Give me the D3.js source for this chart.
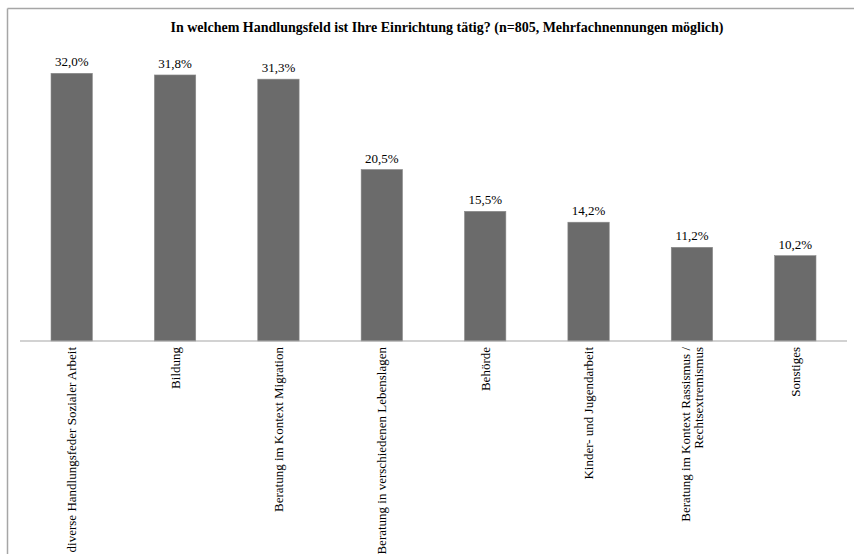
<!DOCTYPE html>
<html>
<head>
<meta charset="utf-8">
<script src="https://cdn.jsdelivr.net/npm/d3@7"></script>
<style>
  html, body { margin: 0; padding: 0; background: #fff; }
  svg { display: block; }
</style>
</head>
<body>
<svg id="chart" width="854" height="554"></svg>
<script>
// Handlungsfelder der Einrichtungen (Mehrfachnennungen, n=805)
const categories = [
  "diverse Handlungsfeder Sozialer Arbeit",
  "Bildung",
  "Beratung im Kontext Migration",
  "Beratung in verschiedenen Lebenslagen",
  "Behörde",
  "Kinder- und Jugendarbeit",
  "Beratung im Kontext Rassismus / Rechtsextremismus",
  "Sonstiges"
];
const values = [32.0, 31.8, 31.3, 20.5, 15.5, 14.2, 11.2, 10.2];
const valueLabels = ["32,0%", "31,8%", "31,3%", "20,5%", "15,5%", "14,2%", "11,2%", "10,2%"];
const axisLines = [
  ["diverse Handlungsfeder Sozialer Arbeit"],
  ["Bildung"],
  ["Beratung im Kontext Migration"],
  ["Beratung in verschiedenen Lebenslagen"],
  ["Behörde"],
  ["Kinder- und Jugendarbeit"],
  ["Beratung im Kontext Rassismus /", "Rechtsextremismus"],
  ["Sonstiges"]
];
const title = "In welchem Handlungsfeld ist Ihre Einrichtung tätig? (n=805, Mehrfachnennungen möglich)";

const svg = d3.select("#chart");
const W = 854, H = 554;
const serif = "'Liberation Serif', 'Times New Roman', serif";

// chart frame (left and top edges visible)
svg.append("line").attr("x1", 7.5).attr("y1", 8.5).attr("x2", W).attr("y2", 8.5)
  .attr("stroke", "#a6a6a6").attr("stroke-width", 1.5);
svg.append("line").attr("x1", 7.5).attr("y1", 8.5).attr("x2", 7.5).attr("y2", H)
  .attr("stroke", "#a6a6a6").attr("stroke-width", 1.5);

svg.append("text")
  .attr("x", 447).attr("y", 31.5)
  .attr("text-anchor", "middle")
  .attr("font-family", serif)
  .attr("font-weight", "bold")
  .attr("font-size", 14)
  .attr("fill", "#000")
  .text(title);

const plotLeft = 20, plotRight = 847, baseline = 341;
const x = d3.scaleBand().domain(categories).range([plotLeft, plotRight]).paddingInner(0.6).paddingOuter(0.3);
const y = d3.scaleLinear().domain([0, 32]).range([baseline, 73.3]);

svg.append("g").selectAll("rect")
  .data(categories)
  .join("rect")
  .attr("x", d => x(d))
  .attr("width", x.bandwidth())
  .attr("y", (d, i) => y(values[i]))
  .attr("height", (d, i) => baseline - y(values[i]))
  .attr("fill", "#6b6b6b")
  .attr("stroke", "#8a8a8a")
  .attr("stroke-width", 0.6);

svg.append("g").selectAll("text")
  .data(categories)
  .join("text")
  .attr("x", d => x(d) + x.bandwidth() / 2)
  .attr("y", (d, i) => y(values[i]) - 7)
  .attr("text-anchor", "middle")
  .attr("font-family", serif)
  .attr("font-size", 13)
  .attr("fill", "#000")
  .text((d, i) => valueLabels[i]);

// category axis
const axisG = svg.append("g").attr("transform", `translate(0,${baseline})`)
  .call(d3.axisBottom(x).tickSize(0).tickFormat(""));
axisG.select(".domain").attr("stroke", "#a6a6a6").attr("stroke-width", 1.2)
  .attr("d", `M${plotLeft},0H${plotRight}`);

// rotated category labels, ending just below the axis
const lab = svg.append("g").selectAll("text")
  .data(categories)
  .join("text")
  .attr("transform", d => `translate(${x(d) + x.bandwidth() / 2},${baseline + 6}) rotate(-90)`)
  .attr("text-anchor", "end")
  .attr("font-family", serif)
  .attr("font-size", 13)
  .attr("fill", "#000");
lab.each(function(d, i) {
  const lines = axisLines[i];
  const n = lines.length;
  const t = d3.select(this);
  lines.forEach((ln, j) => {
    t.append("tspan")
      .attr("x", 0)
      .attr("y", (j - (n - 1) / 2) * 13.5 + 4.5)
      .text(ln);
  });
});
</script>
</body>
</html>
